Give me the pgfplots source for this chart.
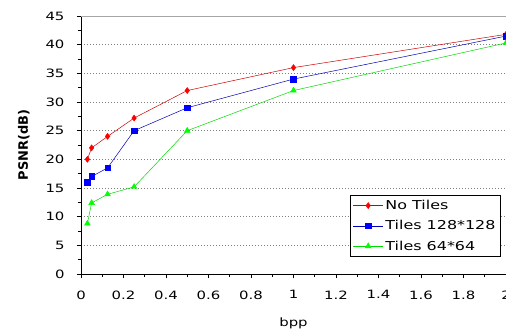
\documentclass[border=0pt]{standalone}
\usepackage{pgfplots}
\pgfplotsset{compat=1.18}
\usepackage{fontspec}
\setmainfont{DejaVu Sans}
\newfontfamily\wide[FakeStretch=1.3]{DejaVu Sans}
\begin{document}
\begin{tikzpicture}[x=1bp,y=1bp]
\begin{axis}[
  at={(0,0)}, anchor=south west,
  scale only axis, width=425bp, height=258bp,
  xmin=0, xmax=2, ymin=0, ymax=45,
  axis x line*=bottom, axis y line*=left,
  axis line style={black, line width=0.8pt, -},
  xtick={0,0.2,...,2.01}, ytick={0,5,...,45},
  minor x tick num=1, minor y tick num=1,
  tick align=outside,
  major tick length=4bp, minor tick length=3bp,
  tick style={black, line width=0.6pt},
  xticklabels={0,0.2,0.4,0.6,0.8,1,1.2,1.4,1.6,1.8,2},
  yticklabels={0,5,10,15,20,25,30,35,40,45},
  ticklabel style={font=\wide\fontsize{11.5}{13}\selectfont},
  xticklabel style={yshift=-9bp},
  yticklabel style={xshift=-9bp},
  ymajorgrids, grid style={gray, dash pattern=on 1.5bp off 1.5bp, line width=0.8pt},
  xlabel={bpp}, ylabel={PSNR(dB)},
  xlabel style={font=\wide\fontsize{11.5}{13}\selectfont, yshift=-12bp},
  ylabel style={font=\bfseries\fontsize{13}{14}\selectfont, yshift=9bp},
  legend style={at={(0.988,0.066)}, anchor=south east, draw=black, line width=0.8pt,
    font=\wide\fontsize{12.3}{15}\selectfont, row sep=5.5bp, inner sep=3bp},
  legend cell align=left,
  legend image code/.code={\draw[mark repeat=2,mark phase=2,#1] plot coordinates {(0bp,0bp) (15bp,0bp) (30bp,0bp)};},
  clip=false,
]
\draw[gray!70, line width=0.8pt] (axis cs:0,45) -- (axis cs:2,45);
\addplot[color=red!80!black, line width=0.5pt, mark=diamond*, mark size=3pt, mark options={red, draw=red}]
  coordinates {(0.03,20) (0.05,22) (0.125,24) (0.25,27.2) (0.5,32) (1,36) (2,41.8)};
\addlegendentry{No Tiles}
\addplot[color=blue!70!black, line width=0.5pt, mark=square*, mark size=2.8pt, mark options={blue, draw=blue}]
  coordinates {(0.03,16) (0.05,17) (0.125,18.5) (0.25,25) (0.5,29) (1,34) (2,41.5)};
\addlegendentry{Tiles 128*128}
\addplot[color=green!85!black, line width=0.5pt, mark=triangle*, mark size=3.3pt, mark options={green, draw=green}]
  coordinates {(0.03,8.8) (0.05,12.4) (0.125,13.9) (0.25,15.2) (0.5,25) (1,32) (2,40.3)};
\addlegendentry{Tiles 64*64}
\end{axis}
\pgfresetboundingbox
\path[use as bounding box] (-81bp,-61bp) rectangle (425bp,274bp);
\end{tikzpicture}
\end{document}
